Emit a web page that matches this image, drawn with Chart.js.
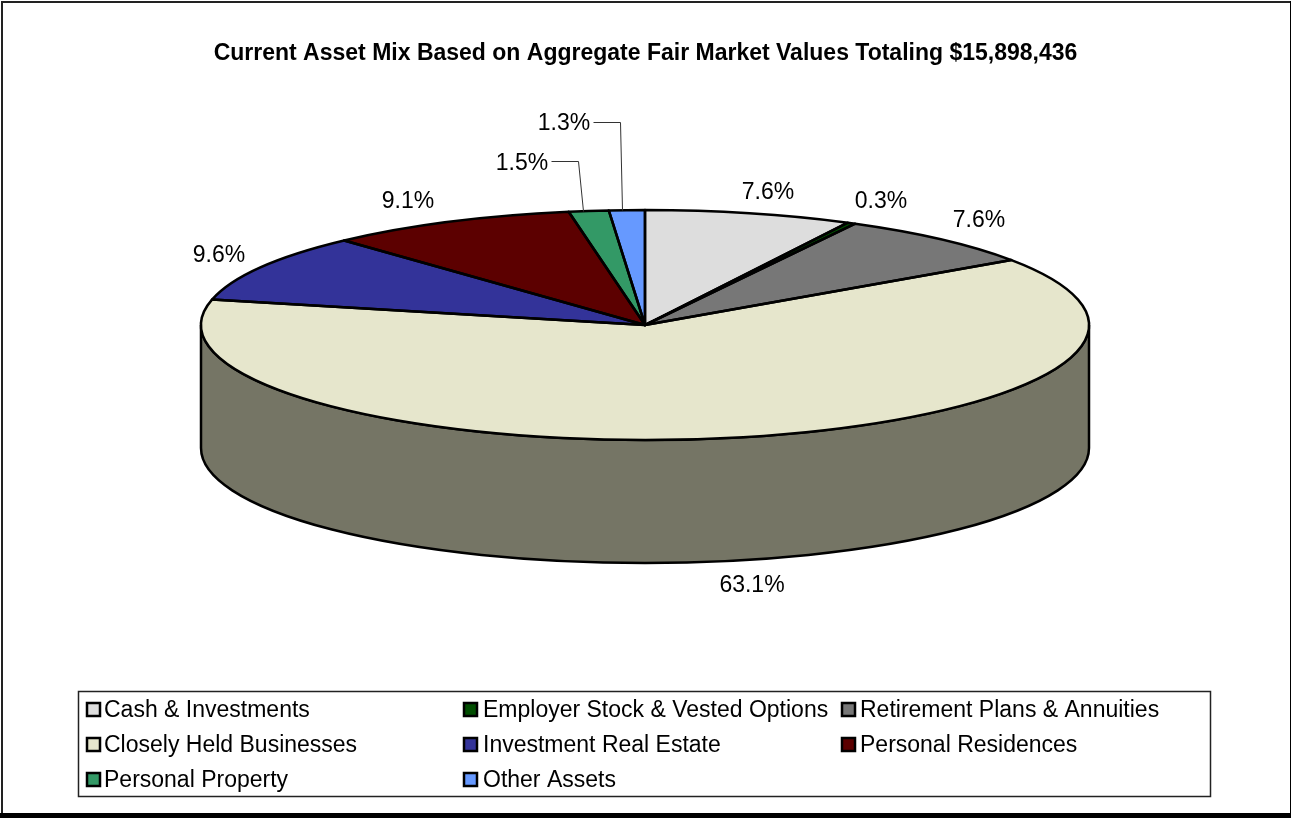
<!DOCTYPE html>
<html>
<head>
<meta charset="utf-8">
<style>
html,body{margin:0;padding:0;background:#fff;overflow:hidden}
#wrap{position:absolute;left:0;top:0;width:1291px;height:818px}
canvas{display:block}
</style>
<script src="https://cdn.jsdelivr.net/npm/chart.js@4/dist/chart.umd.min.js"></script>
</head>
<body>
<div id="wrap"><canvas id="c" width="1291" height="818"></canvas></div>
<script>
const chartTitle = 'Current Asset Mix Based on Aggregate Fair Market Values Totaling $15,898,436';
const categories = ['Cash & Investments','Employer Stock & Vested Options','Retirement Plans & Annuities','Closely Held Businesses','Investment Real Estate','Personal Residences','Personal Property','Other Assets'];
const shares = [7.55,0.3,7.6,63.1,9.6,9.1,1.45,1.3];
const shareLabels = ['7.6%','0.3%','7.6%','63.1%','9.6%','9.1%','1.5%','1.3%'];
const sliceColors = ['#DDDDDD','#004D00','#777777','#E6E6CC','#333399','#5C0000','#339966','#6699FF'];
const wallColor = '#757565';

// geometry of the tilted disc
const disc = {cx:645, cy:325, rx:444, ry:115, depth:123};
// label placement (centre of text) with optional leader lines
const labelSpots = [[768,193],[881,202],[979,221],[752,586],[219,256],[408,202],[522,164],[564,124]];
const leaders = {6:[[551,161],[578,161],[583,211]], 7:[[593,122],[620,122],[622,210]]};
const legendBox = {x:78.5, y:691.5, w:1132, h:105};
const legendCols = [87,464,842], legendTextCols = [104,483,860], legendRows = [709,744,779];
const FONT = '"Liberation Sans", Arial, sans-serif';

const disc3d = {
  id:'disc3d',
  beforeDraw(chart){
    const c = chart.ctx;
    c.save();
    c.fillStyle='#fff'; c.fillRect(0,0,1291,818);
    c.fillStyle='#222';
    c.fillRect(1,1,1290,2); c.fillRect(1,1,2,812);
    c.fillStyle='#000';
    c.fillRect(1290,1,1,817); c.fillRect(0,813,1291,5);
    c.restore();
  },
  beforeDatasetsDraw(chart){
    const c = chart.ctx, d = disc, arc = chart.getDatasetMeta(0).data[0];
    c.save();
    c.beginPath();
    c.ellipse(d.cx,d.cy+d.depth,d.rx,d.ry,0,0,Math.PI);
    c.lineTo(d.cx-d.rx,d.cy);
    c.ellipse(d.cx,d.cy,d.rx,d.ry,0,Math.PI,0,true);
    c.closePath();
    c.fillStyle=wallColor; c.fill();
    c.lineWidth=2.5; c.strokeStyle='#000'; c.stroke();
    c.restore();
    // flatten the library's pie into the disc ellipse
    c.save();
    const R = arc.outerRadius;
    c.translate(d.cx,d.cy); c.scale(d.rx/R,d.ry/R); c.translate(-arc.x,-arc.y);
  },
  afterDatasetsDraw(chart){
    const c = chart.ctx, d = disc, arcs = chart.getDatasetMeta(0).data;
    c.restore();
    c.save();
    c.strokeStyle='#000'; c.lineWidth=2.5; c.lineJoin='round';
    arcs.forEach(a=>{
      c.beginPath();
      c.moveTo(d.cx,d.cy);
      c.ellipse(d.cx,d.cy,d.rx,d.ry,0,a.startAngle,a.endAngle);
      c.closePath();
      c.stroke();
    });
    c.restore();
  },
  afterDraw(chart){
    const c = chart.ctx;
    c.save();
    c.font='23px '+FONT; c.fillStyle='#000'; c.textBaseline='middle'; c.textAlign='center';
    shareLabels.forEach((s,i)=>c.fillText(s,labelSpots[i][0],labelSpots[i][1]));
    c.strokeStyle='#333'; c.lineWidth=1;
    Object.values(leaders).forEach(p=>{
      c.beginPath();
      p.forEach((q,i)=>i?c.lineTo(q[0]+.5,q[1]+.5):c.moveTo(q[0]+.5,q[1]+.5));
      c.stroke();
    });
    c.strokeStyle='#222'; c.lineWidth=1.5;
    c.strokeRect(legendBox.x,legendBox.y,legendBox.w,legendBox.h);
    c.textAlign='left'; c.strokeStyle='#000';
    categories.forEach((name,i)=>{
      const col=i%3, y=legendRows[Math.floor(i/3)], x=legendCols[col];
      c.fillStyle=sliceColors[i]; c.fillRect(x,y-6,13,13);
      c.lineWidth=2.5; c.strokeRect(x,y-6,13,13);
      c.fillStyle='#000'; c.fillText(name,legendTextCols[col],y+2);
    });
    c.restore();
  }
};

new Chart(document.getElementById('c'),{
  type:'pie',
  data:{labels:categories,datasets:[{data:shares,backgroundColor:sliceColors,borderWidth:0,clip:false}]},
  options:{
    responsive:false,animation:false,
    layout:{padding:{left:0,right:0,top:0,bottom:260}},
    plugins:{
      legend:{display:false},tooltip:{enabled:false},
      title:{display:true,text:chartTitle,color:'#000',font:{family:FONT,size:23,weight:'bold'},padding:{top:40,bottom:30},align:'center'}
    }
  },
  plugins:[disc3d]
});
</script>
</body>
</html>
